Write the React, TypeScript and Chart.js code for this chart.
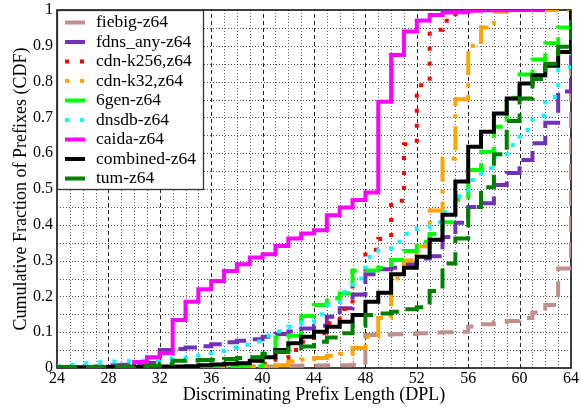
import React, { useEffect, useRef } from 'react';
import { Chart, registerables } from 'chart.js';

Chart.register(...registerables);

// ---------------- data ----------------
const prefixLengths = [24, 25, 26, 27, 28, 29, 30, 31, 32, 33, 34, 35, 36, 37, 38, 39, 40, 41, 42, 43, 44,
  45, 46, 47, 48, 49, 50, 51, 52, 53, 54, 55, 56, 57, 58, 59, 60, 61, 62, 63, 64];

const xTickLabels = ['24', '28', '32', '36', '40', '44', '48', '52', '56', '60', '64'];
const yTickLabels = ['0', '0.1', '0.2', '0.3', '0.4', '0.5', '0.6', '0.7', '0.8', '0.9', '1'];

const seriesLabels = ['fiebig-z64', 'fdns_any-z64', 'cdn-k256,z64', 'cdn-k32,z64', '6gen-z64',
  'dnsdb-z64', 'caida-z64', 'combined-z64', 'tum-z64'];

const fiebig = [0, 0, 0, 0, 0, 0, 0, 0, 0, 0, 0, 0, 0.001, 0.001, 0.002, 0.003, 0.004, 0.006, 0.006, 0.007, 0.007,
  0.008, 0.008, 0.009, 0.092, 0.093, 0.094, 0.095, 0.097, 0.099, 0.1, 0.101, 0.116, 0.122, 0.128, 0.131, 0.14, 0.155, 0.176, 0.278, 1];

const fdnsAny = [0.001, 0.001, 0.002, 0.004, 0.008, 0.009, 0.012, 0.014, 0.05, 0.053, 0.057, 0.061, 0.066, 0.072, 0.076, 0.08, 0.087, 0.095, 0.102, 0.11, 0.118,
  0.143, 0.167, 0.205, 0.262, 0.276, 0.28, 0.29, 0.306, 0.312, 0.366, 0.406, 0.45, 0.46, 0.511, 0.545, 0.581, 0.628, 0.685, 0.772, 1];

const cdnK256 = [0, 0, 0, 0, 0, 0, 0, 0, 0, 0, 0, 0, 0, 0, 0, 0.004, 0.012, 0.028, 0.05, 0.073, 0.097,
  0.125, 0.165, 0.275, 0.33, 0.36, 0.467, 0.625, 0.79, 0.945, 0.97, 1, 1, 1, 1, 1, 1, 1, 1, 1, 1];

const cdnK32 = [0, 0, 0, 0, 0, 0, 0, 0, 0, 0, 0, 0, 0, 0, 0.002, 0.003, 0.004, 0.008, 0.018, 0.024, 0.028,
  0.034, 0.04, 0.056, 0.087, 0.14, 0.25, 0.3, 0.34, 0.44, 0.585, 0.751, 0.9, 0.951, 0.995, 1, 1, 1, 1, 1, 1];

const sixGen = [0, 0, 0, 0, 0, 0, 0, 0, 0, 0.001, 0.001, 0.001, 0.002, 0.002, 0.003, 0.005, 0.038, 0.085, 0.09, 0.145, 0.176,
  0.195, 0.208, 0.272, 0.272, 0.28, 0.302, 0.327, 0.353, 0.374, 0.407, 0.469, 0.553, 0.604, 0.674, 0.755, 0.82, 0.862, 0.907, 0.951, 1];

const dnsdb = [0.005, 0.009, 0.013, 0.016, 0.018, 0.019, 0.02, 0.022, 0.025, 0.028, 0.035, 0.042, 0.048, 0.057, 0.065, 0.074, 0.09, 0.103, 0.115, 0.127, 0.15,
  0.175, 0.213, 0.25, 0.31, 0.334, 0.353, 0.375, 0.39, 0.407, 0.436, 0.48, 0.525, 0.558, 0.59, 0.623, 0.665, 0.705, 0.757, 0.84, 1];

const caida = [0, 0, 0, 0, 0, 0, 0.017, 0.03, 0.041, 0.134, 0.185, 0.22, 0.243, 0.271, 0.29, 0.309, 0.318, 0.341, 0.362, 0.376, 0.385,
  0.427, 0.448, 0.469, 0.49, 0.744, 0.874, 0.94, 0.971, 0.986, 0.993, 0.994, 0.998, 0.999, 0.999, 1, 1, 1, 1, null, null];

const combined = [0.002, 0.002, 0.002, 0.002, 0.003, 0.003, 0.003, 0.003, 0.004, 0.004, 0.005, 0.008, 0.01, 0.012, 0.013, 0.02, 0.03, 0.05, 0.069, 0.087, 0.101,
  0.115, 0.129, 0.148, 0.185, 0.21, 0.262, 0.28, 0.311, 0.358, 0.428, 0.521, 0.618, 0.66, 0.711, 0.753, 0.795, 0.818, 0.844, 0.883, 1];

const tum = [0.003, 0.003, 0.003, 0.003, 0.004, 0.004, 0.005, 0.006, 0.012, 0.02, 0.021, 0.022, 0.023, 0.025, 0.028, 0.03, 0.04, 0.045, 0.055, 0.06, 0.073,
  0.085, 0.097, 0.118, 0.148, 0.152, 0.157, 0.164, 0.17, 0.215, 0.292, 0.362, 0.45, 0.505, 0.597, 0.69, 0.753, 0.807, 0.85, 0.897, 1];

const seriesValues = [fiebig, fdnsAny, cdnK256, cdnK32, sixGen, dnsdb, caida, combined, tum];

// ---------------- styles ----------------
const seriesColors = ['#c09090', '#7232b8', '#ff0000', '#ffa500', '#00ff00', '#00ffff', '#ff00ff', '#000000', '#008000'];
const seriesDash = [[16, 10], [20, 8], [4, 11], [24, 8, 4, 8], [20, 9], [4, 11], [], [], [20, 9]];
const legendDash = [[], [], [4, 11], [4, 11], [], [4, 11], [], [], []];
const FONT = '"Liberation Serif", "Times New Roman", serif';

const gridPlugin = {
  id: 'gnuGrid',
  beforeDatasetsDraw(chart: any) {
    const { ctx, chartArea: a, scales } = chart;
    const xs = scales.x;
    const ys = scales.y;
    ctx.save();
    ctx.lineWidth = 1;
    // horizontal dotted lines every 0.05
    ctx.setLineDash([1, 2]);
    ctx.strokeStyle = '#555';
    for (let k = 1; k < 20; k++) {
      const py = Math.round(ys.getPixelForValue(k * 0.05)) + 0.5;
      ctx.beginPath();
      ctx.moveTo(a.left, py);
      ctx.lineTo(a.right, py);
      ctx.stroke();
    }
    // vertical lines every unit, dashed at labelled ticks
    for (let v = xs.min + 1; v < xs.max; v++) {
      const px = Math.round(xs.getPixelForValue(v)) + 0.5;
      const major = (v - xs.min) % 4 === 0;
      ctx.setLineDash(major ? [4, 3] : [1, 2]);
      ctx.strokeStyle = major ? '#222' : '#666';
      ctx.beginPath();
      ctx.moveTo(px, a.bottom);
      ctx.lineTo(px, a.top);
      ctx.stroke();
    }
    ctx.setLineDash([]);
    ctx.strokeStyle = '#000';
    ctx.lineWidth = 1.5;
    ctx.strokeRect(a.left, a.top, a.right - a.left, a.bottom - a.top);
    ctx.restore();
  },
};

const legendPlugin = {
  id: 'boxLegend',
  afterDatasetsDraw(chart: any) {
    const { ctx, chartArea: a } = chart;
    const x0 = a.left;
    const y0 = a.top;
    const w = 146;
    const h = 179;
    ctx.save();
    ctx.fillStyle = '#fff';
    ctx.fillRect(x0, y0, w, h);
    ctx.strokeStyle = '#333';
    ctx.lineWidth = 1.3;
    ctx.strokeRect(x0 + 0.5, y0 + 0.5, w, h);
    chart.data.datasets.forEach((ds: any, i: number) => {
      const cy = y0 + 12.5 + i * 19.5;
      ctx.strokeStyle = ds.borderColor;
      ctx.lineWidth = ds.borderWidth;
      ctx.lineCap = 'butt';
      ctx.setLineDash(legendDash[i]);
      ctx.beginPath();
      ctx.moveTo(x0 + 8, cy);
      ctx.lineTo(x0 + 28, cy);
      ctx.stroke();
      ctx.setLineDash([]);
      ctx.fillStyle = '#000';
      ctx.font = '17.5px ' + FONT;
      ctx.textAlign = 'left';
      ctx.textBaseline = 'middle';
      ctx.fillText(ds.label, x0 + 39, cy);
    });
    ctx.restore();
  },
};

export default function App() {
  const canvasRef = useRef<HTMLCanvasElement | null>(null);

  useEffect(() => {
    if (!canvasRef.current) return;
    const n = seriesLabels.length;
    const datasets = seriesLabels.map((label, i) => ({
      label,
      data: prefixLengths.map((x, j) => ({ x, y: seriesValues[i][j] })),
      borderColor: seriesColors[i],
      backgroundColor: seriesColors[i],
      borderWidth: 4,
      borderDash: seriesDash[i],
      borderCapStyle: 'butt',
      borderJoinStyle: 'miter',
      stepped: 'before',
      pointRadius: 0,
      fill: false,
      spanGaps: false,
      order: n - i,
    }));

    const chart = new Chart(canvasRef.current, {
      type: 'line',
      data: { datasets } as any,
      plugins: [gridPlugin, legendPlugin],
      options: {
        animation: false,
        responsive: false,
        devicePixelRatio: 1,
        events: [],
        layout: { padding: { top: 10, right: 10, left: 0, bottom: 0 } },
        plugins: { legend: { display: false }, tooltip: { enabled: false } },
        scales: {
          x: {
            type: 'linear',
            min: 24,
            max: 64,
            grid: { display: false, drawTicks: false },
            border: { display: false },
            ticks: {
              stepSize: 4,
              autoSkip: false,
              maxRotation: 0,
              padding: 1,
              color: '#000',
              font: { family: FONT, size: 16 },
              callback: (_v: any, i: number) => xTickLabels[i],
            },
            title: {
              display: true,
              text: 'Discriminating Prefix Length (DPL)',
              color: '#000',
              font: { family: FONT, size: 18 },
              padding: { top: 0, bottom: 2 },
            },
            afterFit: (s: any) => {
              s.height = 40;
              s.paddingLeft = 0;
              s.paddingRight = 0;
            },
          },
          y: {
            type: 'linear',
            min: 0,
            max: 1,
            grid: { display: false, drawTicks: false },
            border: { display: false },
            ticks: {
              stepSize: 0.1,
              autoSkip: false,
              padding: 4,
              color: '#000',
              font: { family: FONT, size: 16 },
              callback: (_v: any, i: number) => yTickLabels[i],
            },
            title: {
              display: true,
              text: 'Cumulative Fraction of Prefixes (CDF)',
              color: '#000',
              font: { family: FONT, size: 18 },
              padding: { top: 10, bottom: 0 },
            },
            afterFit: (s: any) => {
              s.width = 57;
              s.paddingTop = 0;
              s.paddingBottom = 0;
            },
          },
        },
      } as any,
    });
    return () => chart.destroy();
  }, []);

  return (
    <div style={{ position: 'absolute', left: 0, top: 0, width: 581, height: 408, background: '#fff' }}>
      <canvas ref={canvasRef} width={581} height={408} style={{ display: 'block' }} />
    </div>
  );
}
